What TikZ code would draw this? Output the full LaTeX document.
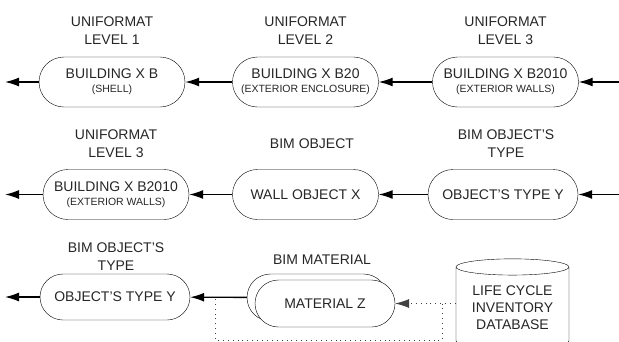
\documentclass[tikz,border=0pt]{standalone}
\usepackage{fontspec}
\setmainfont{Liberation Sans}
\usetikzlibrary{arrows.meta,shapes.geometric,calc}

\begin{document}
\begin{tikzpicture}[x=1pt,y=-1pt,
  stadium/.style={draw,rectangle,rounded corners=25pt,minimum width=146pt,
    minimum height=50pt,inner sep=0pt,align=center,text=black!85,
    font=\fontsize{14}{15}\selectfont},
  levelname/.style={align=center,text=black!85,font=\fontsize{14}{18}\selectfont},
  link/.style={line width=1.4pt,-{Latex[length=14pt,width=9pt]}},
  dotlink/.style={line width=0.8pt,black!75,dash pattern=on 0.9pt off 4pt}]
  \clip (0,0) rectangle (619,341);

  % Uniformat levels.
  \node[levelname] at (112,31) {UNIFORMAT\\LEVEL 1};
  \node[levelname] at (305.5,31) {UNIFORMAT\\LEVEL 2};
  \node[levelname] at (505.5,31) {UNIFORMAT\\LEVEL 3};
  \node[stadium] (lvlA) at (112,82)
    {BUILDING X B\\[-1pt]{\fontsize{10.5}{12}\selectfont(SHELL)}};
  \node[stadium] (lvlB) at (305.5,82)
    {BUILDING X B20\\[-1pt]{\fontsize{10.5}{12}\selectfont(EXTERIOR ENCLOSURE)}};
  \node[stadium] (lvlC) at (505.5,82)
    {BUILDING X B2010\\[-1pt]{\fontsize{10.5}{12}\selectfont(EXTERIOR WALLS)}};
  \coordinate (outA) at (5,82);
  \coordinate (inA) at (619,82);
  \draw[link] (lvlA) -- (outA);
  \draw[link] (lvlB) -- (lvlA);
  \draw[link] (lvlC) -- (lvlB);
  \draw[link] (inA) -- (lvlC);

  % BIM object.
  \node[levelname] at (116,143.5) {UNIFORMAT\\LEVEL 3};
  \node[levelname] at (312,143.5) {BIM OBJECT};
  \node[levelname] at (506,143.5) {BIM OBJECT'S\\TYPE};
  \node[stadium] (wallLvl) at (116,194.5)
    {BUILDING X B2010\\[-1pt]{\fontsize{10.5}{12}\selectfont(EXTERIOR WALLS)}};
  \node[stadium] (wallObj) at (305.5,194.5) {WALL OBJECT X};
  \node[stadium,minimum width=150pt] (wallType) at (503,194.5) {OBJECT'S TYPE Y};
  \coordinate (outB) at (5,194.5);
  \coordinate (inB) at (619,194.5);
  \draw[link] (wallLvl) -- (outB);
  \draw[link] (wallObj) -- (wallLvl);
  \draw[link] (wallType) -- (wallObj);
  \draw[link] (inB) -- (wallType);

  % BIM material and LCI database.
  \node[levelname] at (116,256.5) {BIM OBJECT'S\\TYPE};
  \node[levelname] at (322,260) {BIM MATERIAL};
  \node[stadium,minimum width=150pt,minimum height=46pt,rounded corners=23pt]
    (matType) at (115,297) {OBJECT'S TYPE Y};
  \node[stadium,minimum width=140pt,minimum height=47pt,rounded corners=23.5pt]
    (matBack) at (317,297.5) {};
  \node[stadium,fill=white,minimum width=140pt,minimum height=47pt,
    rounded corners=23.5pt] (mat) at (325,303.5) {MATERIAL Z};
  \node[draw,cylinder,shape border rotate=90,aspect=0.2,minimum width=113pt,
    minimum height=90pt,inner sep=0pt,align=center,text=black!85,
    font=\fontsize{14}{17}\selectfont] (lci) at (512.5,308)
    {LIFE CYCLE\\INVENTORY\\DATABASE};
  \coordinate (outC) at (5,297);
  \coordinate (lciTap) at (442,303.5);
  \coordinate (matTap) at (215,297.5);
  \draw[link] (matType) -- (outC);
  \draw[link] (matBack) -- (matType);
  \draw[dotlink,-{Latex[length=14pt,width=9pt]}] (lci.west |- mat.east) -- (mat.east);
  \draw[dotlink] (lciTap) -- ++(0,36.5) -| (matTap);
\end{tikzpicture}
\end{document}
